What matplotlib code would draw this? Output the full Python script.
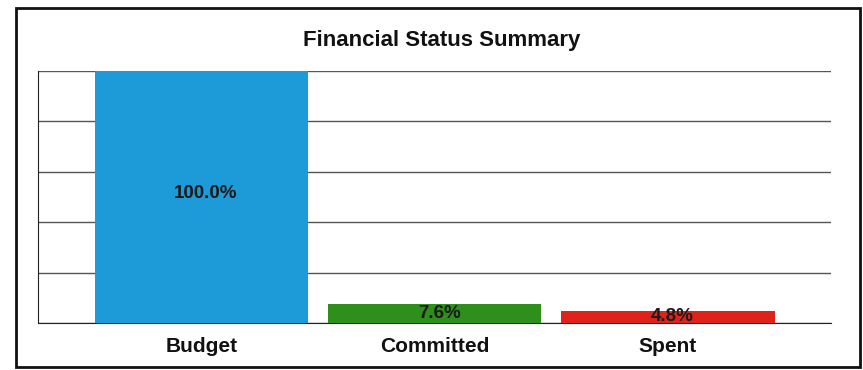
import matplotlib
matplotlib.use("Agg")
import matplotlib.pyplot as plt
from matplotlib.patches import Rectangle

plt.rcParams['font.family'] = ['Liberation Sans', 'DejaVu Sans']

categories = ["Budget", "Committed", "Spent"]
percents = [100.0, 7.6, 4.8]
labels = ["100.0%", "7.6%", "4.8%"]
colors = ['#1d9ad8', '#2f8f1c', '#e0231a']

fig = plt.figure(figsize=(8.63, 3.70), dpi=100)
# outer frame around the whole chart
fig.patches.append(Rectangle((0.018, 0.008), 0.979, 0.97, transform=fig.transFigure,
                             fill=False, edgecolor='#111111', linewidth=2.0))

ax = fig.add_axes([0.044, 0.127, 0.919, 0.681])
x = range(len(categories))
bars = ax.bar(x, percents, width=0.915, color=colors, zorder=3)
for b, lab in zip(bars, labels):
    ax.text(b.get_x() + b.get_width() / 2 + 0.02, b.get_height() / 2 + (1.5 if b.get_height() > 50 else 0),
            lab, ha='center', va='center', fontsize=13.5, fontweight='bold',
            color='#1a1a1a', zorder=4)

ax.set_ylim(0, 100)
ax.set_xlim(-0.70, 2.70)
ax.set_yticks([0, 20, 40, 60, 80, 100])
ax.set_yticklabels([])
ax.tick_params(axis='y', length=0)
ax.grid(axis='y', color='#555555', linewidth=1.0, zorder=0)
ax.set_xticks(list(x))
ax.set_xticklabels(categories, fontsize=15, fontweight='bold', color='#111111')
ax.tick_params(axis='x', length=0, pad=10)
for s in ['top', 'right']:
    ax.spines[s].set_visible(False)
ax.spines['left'].set_color('#222222')
ax.spines['bottom'].set_color('#222222')

fig.text(0.512, 0.89, "Financial Status Summary", ha='center', va='center',
         fontsize=16, fontweight='bold', color='#111111')

fig.savefig("out.png", dpi=100)
